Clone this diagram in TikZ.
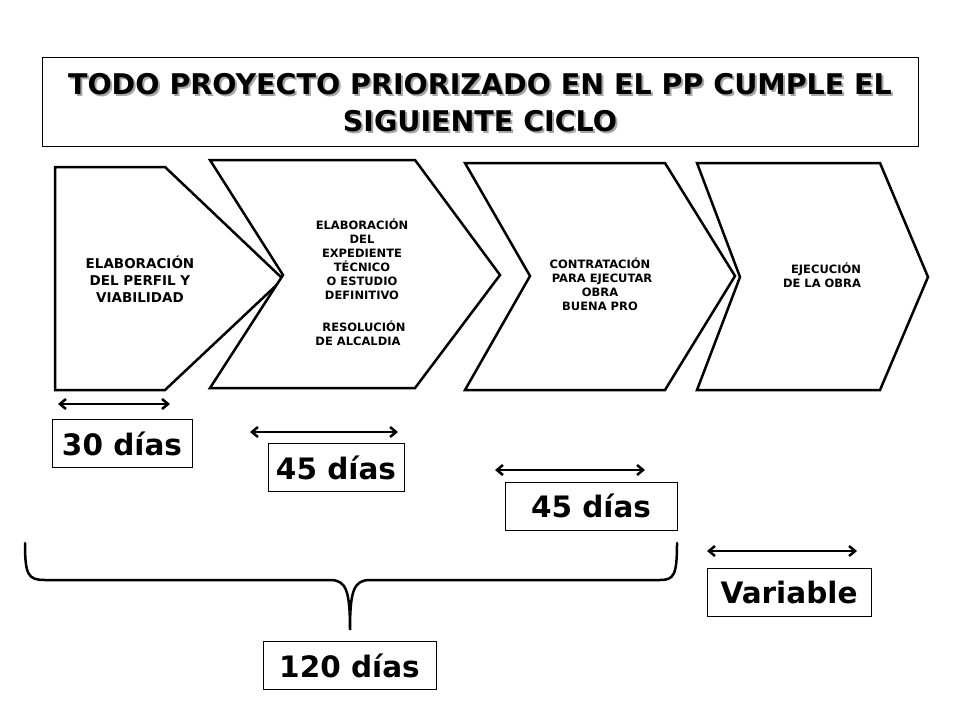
\documentclass[tikz,border=0pt]{standalone}
\usepackage{fontspec}
\setmainfont{DejaVu Sans}
\usetikzlibrary{arrows.meta}
\begin{document}
\begin{tikzpicture}[x=1pt,y=-1pt,
  shp/.style={draw,line width=2.5pt,line join=miter,fill=white},
  small/.style={font=\bfseries\fontsize{11.5}{14}\selectfont,align=center},
  lbl/.style={draw,line width=1pt,font=\bfseries\fontsize{29.5}{32}\selectfont,inner sep=0pt,minimum height=48pt},
  dbl/.style={{Straight Barb[length=6pt,width=10pt]}-{Straight Barb[length=6pt,width=10pt]},line width=2.5pt},
  ttl/.style={font=\bfseries\fontsize{28.5}{37}\selectfont,align=center}]
\useasboundingbox (0,0) rectangle (960,720);
\node[draw,line width=0.8pt,minimum width=876pt,minimum height=89pt] (title) at (480,101.5) {};
\node[ttl,text=gray!70] (tsh) at (482,104.5) {TODO PROYECTO PRIORIZADO EN EL PP CUMPLE EL\\SIGUIENTE CICLO};
\node[ttl] (tt) at (480,102.5) {TODO PROYECTO PRIORIZADO EN EL PP CUMPLE EL\\SIGUIENTE CICLO};
\draw[shp] (55,167)--(165,167)--(283,279)--(165,390)--(55,390)--cycle;
\draw[shp] (210,160)--(415,160)--(500,275)--(415,388)--(210,388)--(283,275)--cycle;
\draw[shp] (465,163)--(665,163)--(735,276)--(665,390)--(465,390)--(530,276)--cycle;
\draw[shp] (697,163)--(880,163)--(928,277)--(880,390)--(697,390)--(740,277)--cycle;
\node[small,font=\bfseries\fontsize{13.5}{17}\selectfont] (t1) at (140,279) {ELABORACIÓN\\DEL PERFIL Y\\VIABILIDAD};
\node[small] (t2) at (362,259) {ELABORACIÓN\\DEL\\EXPEDIENTE\\TÉCNICO\\O ESTUDIO\\DEFINITIVO};
\node[small] (t2b) at (358,333) {\ \ \ RESOLUCIÓN\\DE ALCALDIA};
\node[small] (t3) at (600,284) {CONTRATACIÓN\\\ PARA EJECUTAR\\OBRA\\BUENA PRO};
\node[small] (t4) at (822,275) {\ \ EJECUCIÓN\\DE LA OBRA};
\coordinate (a1) at (58,404); \coordinate (b1) at (170,404);
\coordinate (a2) at (250,432); \coordinate (b2) at (398,432);
\coordinate (a3) at (495,470); \coordinate (b3) at (645,470);
\coordinate (a4) at (707,551); \coordinate (b4) at (857,551);
\draw[dbl] (a1)--(b1); \draw[dbl] (a2)--(b2); \draw[dbl] (a3)--(b3); \draw[dbl] (a4)--(b4);
\node[lbl,minimum width=140pt] (l1) at (122,443.5) {30 días};
\node[lbl,minimum width=136pt] (l2) at (336,467.5) {45 días};
\node[lbl,minimum width=172pt] (l3) at (591,506) {45 días};
\node[lbl,minimum width=164pt] (l4) at (789,592.5) {Variable};
\node[lbl,minimum width=173pt] (l5) at (349.5,665.5) {120 días};
\draw[line width=2.5pt,line cap=round] (25,543) .. controls (25,575) and (28,580) .. (45,580) -- (330,580) .. controls (346,580) and (350,590) .. (350,630) .. controls (350,590) and (354,580) .. (370,580) -- (660,580) .. controls (674,580) and (677,575) .. (677,543);
\end{tikzpicture}
\end{document}
